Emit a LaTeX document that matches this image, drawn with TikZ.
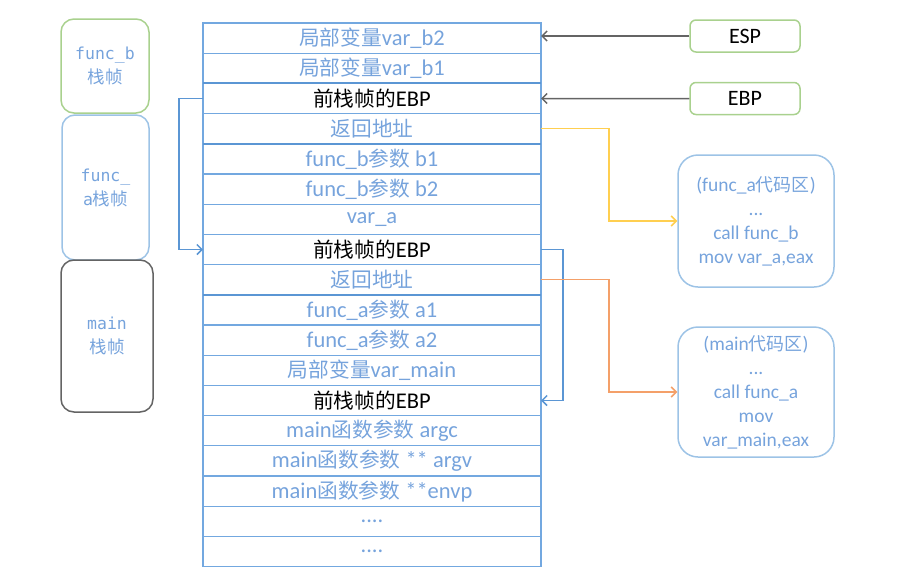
\documentclass[tikz,border=0pt]{standalone}
\usepackage{fontspec}
\setmainfont{Carlito}
\newfontfamily\cjk{Noto Sans CJK SC}[Scale=0.92]
\newfontfamily\mono{DejaVu Sans Mono}
\usetikzlibrary{
    arrows.meta,
    positioning
}
\definecolor{stackline}{RGB}{115,168,224}
\definecolor{stackdark}{RGB}{91,150,212}
\definecolor{stacktext}{RGB}{118,163,220}
\definecolor{framegreen}{RGB}{169,209,142}
\definecolor{frameblue}{RGB}{157,195,230}
\definecolor{framegray}{RGB}{100,100,100}
\definecolor{retyellow}{RGB}{255,207,80}
\definecolor{retorange}{RGB}{244,160,105}
\newcommand{\zh}[1]{{\cjk #1}}
\tikzset{
    % one slot of the stack
    slot/.style={
        draw=stackline, line width=1.3pt, outer sep=0pt, inner sep=0pt,
        minimum width=338pt, minimum height=30.2pt,
        text=stacktext, font=\fontsize{22.5}{26}\selectfont
    },
    ebpslot/.style={slot, text=black},
    % stack frame labels on the left
    frame/.style={
        draw, line width=1.5pt, rounded corners=13pt, align=center,
        text=stacktext, font=\fontsize{16.5}{24}\mono
    },
    % register boxes
    reg/.style={
        draw=framegreen, line width=1.5pt, rounded corners=6pt,
        minimum width=110pt, minimum height=32pt,
        font=\fontsize{22}{26}\selectfont
    },
    % code regions
    code/.style={
        draw=frameblue, line width=1.5pt, rounded corners=20pt,
        minimum width=156pt, align=center,
        text=stacktext, font=\fontsize{19.5}{24}\selectfont
    },
    link/.style={-{Straight Barb[length=5pt, width=10pt]}, line width=1.5pt}
}
\begin{document}
\begin{tikzpicture}[x=1pt, y=-1pt]
    \useasboundingbox (0,0) rectangle (901,582);
    % the stack
    \node[slot] (r1) at (372,38.1) {\zh{局部变量}var\_b2};
    \node[slot, below=0pt of r1] (r2) {\zh{局部变量}var\_b1};
    \node[ebpslot, below=0pt of r2] (r3) {\zh{前栈帧的}EBP};
    \node[slot, below=0pt of r3] (r4) {\zh{返回地址}};
    \node[slot, below=0pt of r4] (r5) {func\_b\zh{参数} b1};
    \node[slot, below=0pt of r5] (r6) {func\_b\zh{参数} b2};
    \node[slot, below=0pt of r6] (r7) {var\_a};
    \node[ebpslot, below=0pt of r7] (r8) {\zh{前栈帧的}EBP};
    \node[slot, below=0pt of r8] (r9) {\zh{返回地址}};
    \node[slot, below=0pt of r9] (r10) {func\_a\zh{参数} a1};
    \node[slot, below=0pt of r10] (r11) {func\_a\zh{参数} a2};
    \node[slot, below=0pt of r11] (r12) {\zh{局部变量}var\_main};
    \node[ebpslot, below=0pt of r12] (r13) {\zh{前栈帧的}EBP};
    \node[slot, below=0pt of r13] (r14) {main\zh{函数参数} argc};
    \node[slot, below=0pt of r14] (r15) {main\zh{函数参数} ** argv};
    \node[slot, below=0pt of r15] (r16) {main\zh{函数参数} **envp};
    \node[slot, below=0pt of r16] (r17) {....};
    \node[slot, below=0pt of r17] (r18) {....};
    \foreach \r in {r3, r5, r10} {
        \draw[stackdark, line width=2pt] (\r.north west) -- (\r.north east);
    }
    % stack frames
    \node[frame, draw=framegreen, minimum width=88pt, minimum height=94pt] (fb) at (105,66)
        {func\_b\\{\fontsize{19}{24}\cjk 栈帧}};
    \node[frame, draw=frameblue, minimum width=87pt, minimum height=145pt] (fa) at (105.5,187.5)
        {func\_\\a{\fontsize{19}{24}\cjk 栈帧}};
    \node[frame, draw=framegray, minimum width=92pt, minimum height=152pt] (fm) at (107,336)
        {main\\{\fontsize{19}{24}\cjk 栈帧}};
    % registers
    \node[reg] (esp) at (745,36) {ESP};
    \node[reg] (ebp) at (745,98.5) {EBP};
    \draw[link, framegray] (esp.west) -- (esp.west -| r1.east);
    \draw[link, framegray] (ebp.west) -- (r3.east);
    % code regions
    \node[code, minimum height=132pt] (codea) at (756,221)
        {(func\_a\zh{代码区})\\...\\call func\_b\\mov var\_a,eax};
    \node[code, minimum height=130pt] (codemain) at (756,392)
        {(main\zh{代码区})\\...\\call func\_a\\mov\\var\_main,eax};
    % saved EBP chain
    \draw[link, stackdark] (r3.west) -- ++(-24,0) |- (r8.west);
    \draw[link, stackdark] (r8.east) -- ++(22,0) |- (r13.east);
    % return addresses
    \draw[link, retyellow] (r4.east) -- ++(68,0) |- (codea.west);
    \draw[link, retorange] (r9.east) -- ++(68,0) |- (codemain.west);
\end{tikzpicture}
\end{document}
